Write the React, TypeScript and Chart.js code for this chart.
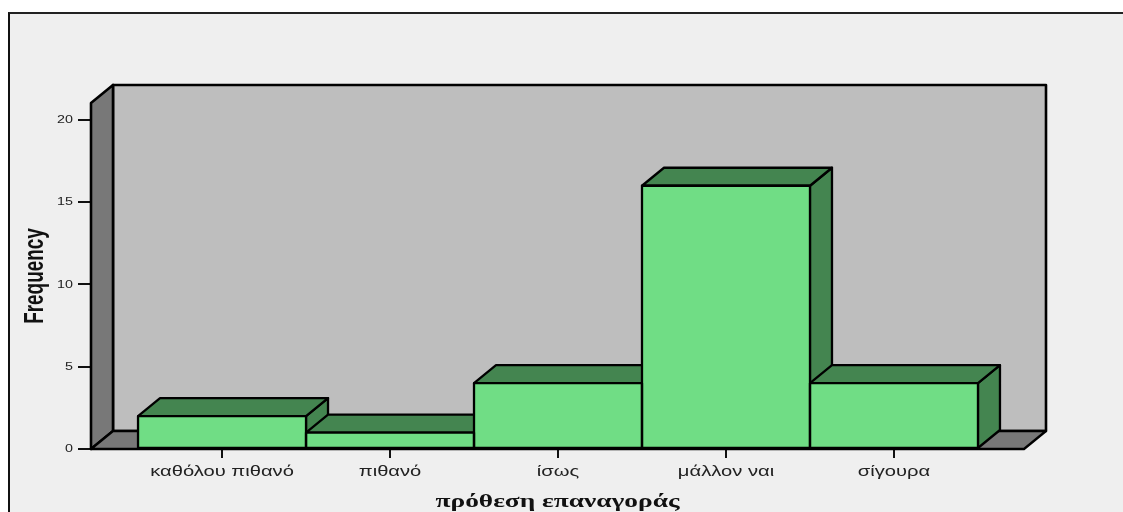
import React, { useEffect, useRef } from "react";
import { Chart, registerables } from "chart.js";

Chart.register(...registerables);

const categories = ["καθόλου πιθανό", "πιθανό", "ίσως", "μάλλον ναι", "σίγουρα"];
const frequencies = [2, 1, 4, 16, 4];
const yTicks = [0, 5, 10, 15, 20];
const yMax = 21.03;
const xMin = -0.78;
const xMax = 4.774;

const depthX = 22;
const depthY = 18;
const colors = {
  page: "#efefef",
  wall: "#bebebe",
  side: "#787878",
  front: "#70dd85",
  shade: "#448550",
  line: "#000000",
};

function poly(ctx: CanvasRenderingContext2D, pts: number[][], fill: string | null, width = 2.3) {
  ctx.beginPath();
  pts.forEach(([x, y], i) => (i ? ctx.lineTo(x, y) : ctx.moveTo(x, y)));
  ctx.closePath();
  if (fill) {
    ctx.fillStyle = fill;
    ctx.fill();
  }
  ctx.lineWidth = width;
  ctx.lineJoin = "round";
  ctx.strokeStyle = colors.line;
  ctx.stroke();
}

// The reference's text is stretched sideways: widen tick labels one by one, about their anchor.
function stretchLabels(scale: any, k: number) {
  if (scale._stretchedLabels) return;
  scale._stretchedLabels = true;
  const getItems = scale.getLabelItems.bind(scale);
  const drawLabels = scale.drawLabels.bind(scale);
  scale.getLabelItems = (area: any) =>
    getItems(area).map((item: any) => ({
      ...item,
      options: { ...item.options, translation: [item.options.translation[0] / k, item.options.translation[1]] },
    }));
  scale.drawLabels = (area: any) => {
    const { ctx } = scale;
    ctx.save();
    ctx.scale(k, 1);
    drawLabels(area);
    ctx.restore();
  };
}

// Same for an axis title, along the axis and about its middle.
function stretchTitle(scale: any, k: number) {
  if (scale._stretchedTitle) return;
  scale._stretchedTitle = true;
  const drawTitle = scale.drawTitle.bind(scale);
  scale.drawTitle = () => {
    const { ctx } = scale;
    ctx.save();
    if (scale.isHorizontal()) {
      const c = (scale.left + scale.right) / 2;
      ctx.translate(c, 0);
      ctx.scale(k, 1);
      ctx.translate(-c, 0);
    } else {
      const c = (scale.top + scale.bottom) / 2;
      ctx.translate(0, c);
      ctx.scale(1, k);
      ctx.translate(0, -c);
    }
    drawTitle();
    ctx.restore();
  };
}

const box3d = {
  id: "box3d",
  beforeDatasetsDraw(chart: any) {
    const { ctx, chartArea: a } = chart;
    ctx.save();
    // back wall, side wall, floor
    poly(ctx, [[a.left + depthX, a.top - depthY], [a.right + depthX, a.top - depthY], [a.right + depthX, a.bottom - depthY], [a.left + depthX, a.bottom - depthY]], colors.wall, 2.6);
    poly(ctx, [[a.left, a.top], [a.left + depthX, a.top - depthY], [a.left + depthX, a.bottom - depthY], [a.left, a.bottom]], colors.side, 2.6);
    poly(ctx, [[a.left, a.bottom], [a.left + depthX, a.bottom - depthY], [a.right + depthX, a.bottom - depthY], [a.right, a.bottom]], colors.side);
    // bar tops and sides, painted left to right; the library fills the fronts after
    chart.getDatasetMeta(0).data.forEach((bar: any) => {
      const { x, y, base, width } = bar.getProps(["x", "y", "base", "width"], true);
      const l = x - width / 2;
      const r = x + width / 2;
      poly(ctx, [[r, y], [r + depthX, y - depthY], [r + depthX, base - depthY], [r, base]], colors.shade);
      poly(ctx, [[l, y], [l + depthX, y - depthY], [r + depthX, y - depthY], [r, y]], colors.shade);
    });
    ctx.restore();
  },
  afterDatasetsDraw(chart: any) {
    const { ctx } = chart;
    ctx.save();
    chart.getDatasetMeta(0).data.forEach((bar: any) => {
      const { x, y, base, width } = bar.getProps(["x", "y", "base", "width"], true);
      const l = x - width / 2;
      const r = x + width / 2;
      poly(ctx, [[l, y], [r, y], [r, base], [l, base]], null);
    });
    ctx.restore();
  },
};

export default function App() {
  const ref = useRef<HTMLCanvasElement>(null);
  useEffect(() => {
    const chart = new Chart(ref.current!, {
      type: "bar",
      data: {
        datasets: [
          {
            data: frequencies.map((y, x) => ({ x, y })),
            backgroundColor: colors.front,
            borderWidth: 0,
            barPercentage: 1,
            categoryPercentage: 1,
          },
        ],
      },
      plugins: [box3d],
      options: {
        animation: false,
        responsive: false,
        layout: { padding: { left: 0, top: 103, right: 99, bottom: 0 } },
        plugins: { legend: { display: false }, tooltip: { enabled: false } },
        scales: {
          x: {
            type: "linear",
            offset: false,
            min: xMin,
            max: xMax,
            afterBuildTicks: (s: any) => {
              s.ticks = categories.map((_, i) => ({ value: i }));
            },
            afterFit: (s: any) => {
              s.height = 63;
              stretchLabels(s, 1.44);
              stretchTitle(s, 1.44);
            },
            grid: { offset: false, drawOnChartArea: false, color: "#111", lineWidth: 2, tickLength: 9 },
            border: { display: false },
            ticks: {
              autoSkip: false,
              maxRotation: 0,
              padding: 6,
              color: "#222",
              font: { family: "'Liberation Sans'", size: 14 },
              callback: (v: any) => categories[v],
            },
            title: {
              display: true,
              text: "πρόθεση επαναγοράς",
              color: "#111",
              font: { family: "'Liberation Serif'", size: 19, weight: "bold" },
              padding: { top: 0, bottom: -1 },
            },
          },
          y: {
            min: 0,
            max: yMax,
            afterBuildTicks: (s: any) => {
              s.ticks = yTicks.map((value) => ({ value }));
            },
            afterFit: (s: any) => {
              s.width = 91;
              stretchLabels(s, 1.3);
              stretchTitle(s, 0.7);
            },
            grid: { drawOnChartArea: false, color: "#111", lineWidth: 2, tickLength: 13 },
            border: { display: false },
            ticks: {
              padding: 5,
              color: "#222",
              font: { family: "'Liberation Sans'", size: 11 },
            },
            title: {
              display: true,
              text: "Frequency",
              color: "#111",
              font: { family: "'Liberation Sans'", size: 27, weight: "bold" },
              padding: { top: 19, bottom: 0 },
            },
          },
        },
      },
    } as any);
    return () => chart.destroy();
  }, []);
  return (
    <div style={{ position: "fixed", left: 0, top: 0, width: 1123, height: 512, background: "#fff", overflow: "hidden" }}>
      <div
        style={{
          position: "absolute",
          left: 8,
          top: 12,
          right: 0,
          bottom: 0,
          background: colors.page,
          borderLeft: "2px solid #111",
          borderTop: "2px solid #222",
        }}
      />
      <canvas ref={ref} width={1123} height={512} style={{ position: "absolute", left: 0, top: 0, display: "block" }} />
    </div>
  );
}
